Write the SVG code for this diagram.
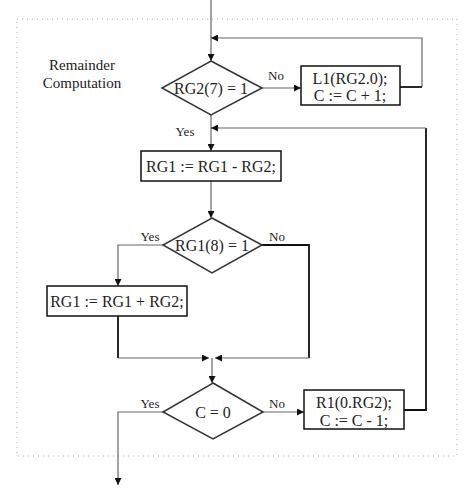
<svg xmlns="http://www.w3.org/2000/svg" width="468" height="496" viewBox="0 0 468 496">
<defs>
<marker id="ah" viewBox="0 0 10 10" refX="10" refY="5" markerWidth="7" markerHeight="7" markerUnits="userSpaceOnUse" orient="auto">
<path d="M0,0 L10,5 L0,10 z" fill="#111"/>
</marker>
</defs>
<style>
.box{fill:#fff;stroke:#111;stroke-width:1.5}
.dia{fill:#fff;stroke:#333;stroke-width:1.5}
.ln{fill:none;stroke:#666;stroke-width:1.2}
.thk{fill:none;stroke:#111;stroke-width:1.8}
text{font-family:'Liberation Serif','DejaVu Serif','Times New Roman',serif;fill:#222;text-anchor:middle;dominant-baseline:central}
.t{font-size:16px}
.lb{font-size:13px}
.ttl{font-size:15px}
</style>
<rect x="17" y="19" width="440" height="437" fill="none" stroke="#aaa" stroke-width="1" stroke-dasharray="1,4"/>
<text class="ttl" x="82" y="65">Remainder</text>
<text class="ttl" x="82" y="83">Computation</text>
<g id="connectors">
<path class="ln" d="M211,0 V61" marker-end="url(#ah)"/>
<path class="thk" d="M400,87 H422"/>
<path class="ln" d="M422,87 V38 H211" marker-end="url(#ah)"/>
<path class="ln" d="M262,88 H301" marker-end="url(#ah)"/>
<path class="ln" d="M211,115 V151" marker-end="url(#ah)"/>
<path class="thk" d="M404,410 H426 V128"/>
<path class="ln" d="M426,128 H211" marker-end="url(#ah)"/>
<path class="ln" d="M211,181 V218" marker-end="url(#ah)"/>
<path class="ln" d="M163,245 H118 V286" marker-end="url(#ah)"/>
<path class="thk" d="M262,245 H309 V358"/>
<path class="ln" d="M309,358 H215" marker-end="url(#ah)"/>
<path class="thk" d="M118,316 V358"/>
<path class="ln" d="M118,358 H209" marker-end="url(#ah)"/>
<path class="ln" d="M212,358 V383" marker-end="url(#ah)"/>
<path class="ln" d="M163,412 H118 V485" marker-end="url(#ah)"/>
<path class="ln" d="M263,412 H304" marker-end="url(#ah)"/>
</g>
<g id="d1">
<polygon class="dia" points="211,61 262,88 211,115 162,88"/>
<text class="t" x="211" y="88">RG2(7) = 1</text>
</g>
<text class="lb" x="276" y="75">No</text>
<text class="lb" x="185" y="131">Yes</text>
<g id="b1">
<rect class="box" x="301" y="66" width="99" height="39"/>
<text class="t" x="350" y="78">L1(RG2.0);</text>
<text class="t" x="350" y="95">C := C + 1;</text>
</g>
<g id="b2">
<rect class="box" x="141" y="151" width="140" height="30"/>
<text class="t" x="211" y="166">RG1 := RG1 - RG2;</text>
</g>
<g id="d2">
<polygon class="dia" points="212,218 262,245 212,273 163,245"/>
<text class="t" x="212" y="245">RG1(8) = 1</text>
</g>
<text class="lb" x="150" y="236">Yes</text>
<text class="lb" x="277" y="236">No</text>
<g id="b3">
<rect class="box" x="47" y="286" width="140" height="30"/>
<text class="t" x="117" y="301">RG1 := RG1 + RG2;</text>
</g>
<g id="d3">
<polygon class="dia" points="213,383 263,412 213,439 163,412"/>
<text class="t" x="213" y="412">C = 0</text>
</g>
<text class="lb" x="150" y="403">Yes</text>
<text class="lb" x="277" y="403">No</text>
<g id="b4">
<rect class="box" x="304" y="390" width="100" height="39"/>
<text class="t" x="354" y="402">R1(0.RG2);</text>
<text class="t" x="354" y="420">C := C - 1;</text>
</g>
</svg>
